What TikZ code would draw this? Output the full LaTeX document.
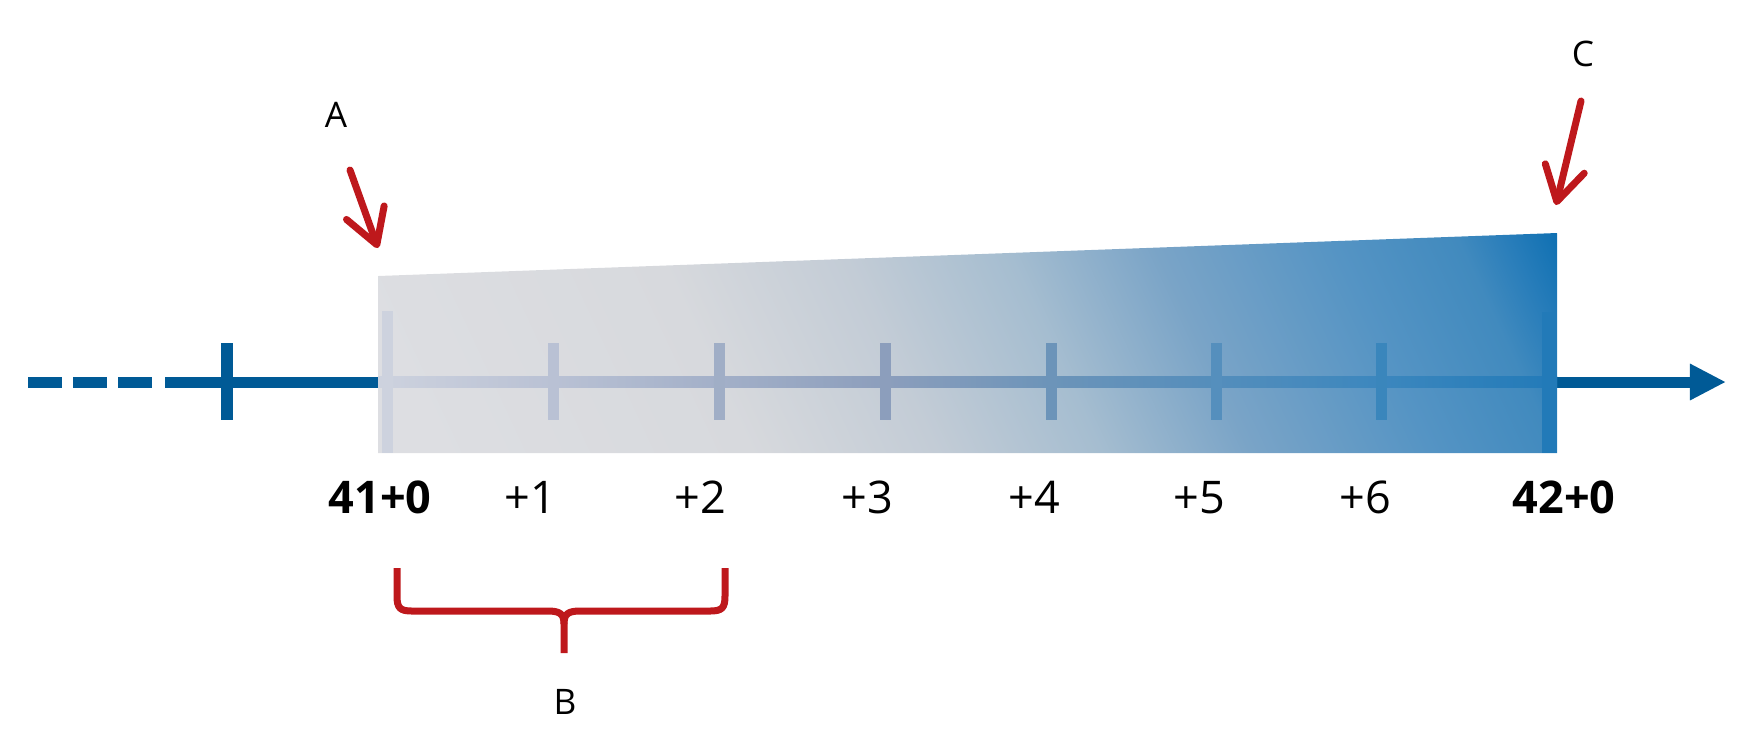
\documentclass[tikz,border=0pt]{standalone}
\usepackage{fontspec}
\setmainfont{Open Sans}
\usetikzlibrary{arrows.meta}
\definecolor{axisblue}{RGB}{0,90,150}
\definecolor{markred}{RGB}{190,24,28}
\definecolor{boxA}{RGB}{221,222,226}
\definecolor{boxB}{RGB}{215,217,221}
\definecolor{boxC}{RGB}{195,204,214}
\definecolor{boxD}{RGB}{165,189,208}
\definecolor{boxE}{RGB}{122,164,199}
\definecolor{boxF}{RGB}{85,148,196}
\definecolor{boxG}{RGB}{65,138,190}
\definecolor{boxH}{RGB}{40,125,186}
\definecolor{boxI}{RGB}{15,112,178}
\definecolor{lineA}{RGB}{205,210,222}
\definecolor{lineB}{RGB}{185,193,212}
\definecolor{lineC}{RGB}{140,158,188}
\definecolor{lineD}{RGB}{108,148,185}
\definecolor{lineE}{RGB}{60,135,190}
\definecolor{lineF}{RGB}{34,122,184}
\pgfdeclarehorizontalshading{boxfade}{100bp}{color(0bp)=(boxA); color(27bp)=(boxA);
  color(39.55bp)=(boxB); color(46.8bp)=(boxC); color(53.25bp)=(boxD); color(59.05bp)=(boxE);
  color(66.1bp)=(boxF); color(71bp)=(boxG); color(73bp)=(boxH); color(75bp)=(boxI);
  color(100bp)=(boxI)}
\pgfdeclarehorizontalshading{linefade}{100bp}{color(0bp)=(lineA); color(25bp)=(lineA);
  color(32.5bp)=(lineB); color(46.5bp)=(lineC); color(53.5bp)=(lineD);
  color(67.5bp)=(lineE); color(75bp)=(lineF); color(100bp)=(lineF)}

\begin{document}
\begin{tikzpicture}[x=0.01cm, y=-0.01cm,
    axis/.style={draw=axisblue, line width=0.11cm},
    pointer/.style={draw=markred, line width=0.07cm, line cap=round,
      -{Straight Barb[length=3.4mm,width=4mm,round]}},
    bracket/.style={draw=markred, line width=0.07cm},
    station/.style={anchor=base, inner sep=0pt, font=\fontsize{12.8}{15}\selectfont},
    tag/.style={anchor=base, inner sep=0pt, font=\fontsize{10}{12}\selectfont}]
  \useasboundingbox (0,0) rectangle (1754,753);

  % axis outside the band
  \draw[axis, dash pattern=on 0.34cm off 0.11cm] (28,382) -- (160,382);
  \draw[axis] (165,382) -- (378,382);
  \draw[axis] (227,343) -- (227,420);
  \draw[axis, -{Triangle[length=3.6mm,width=3.4mm]}] (1556,382) -- (1726,382);

  % band
  \begin{scope}
    \clip (378,276) -- (1557,233) -- (1557,453) -- (378,453) -- cycle;
    \shade[shading=boxfade, transform canvas={rotate around={25:(967.5,343)}}]
      (386.9,-100) rectangle (1548.1,800);
  \end{scope}
  \shade[shading=linefade] (378,376.5) rectangle (1557,387.5);
  \foreach \x/\r/\g/\b in {553/185/193/212, 719/160/174/198, 885/140/158/188,
      1051/108/148/185, 1216/85/143/189, 1381/58/134/188}
    \draw[line width=0.11cm, draw={rgb,255:red,\r;green,\g;blue,\b}] (\x,343) -- (\x,420);
  \draw[line width=0.11cm, draw=lineA] (387,311) -- (387,453);
  \draw[line width=0.15cm, draw=lineF] (1549,312) -- (1549,453);

  \node[station] (s41) at (380,513) {\bfseries 41+0};
  \foreach \n/\x in {1/530, 2/700, 3/867, 4/1034, 5/1199, 6/1365}
    \node[station] (p\n) at (\x,513) {+\n};
  \node[station] (s42) at (1564,513) {\bfseries 42+0};

  % markers
  \node[tag] (A) at (336,127) {A};
  \node[tag] (C) at (1583,66) {C};
  \node[tag] (B) at (565,714) {B};
  \coordinate (A from) at (350,170);
  \coordinate (A to) at (378,248);
  \coordinate (C from) at (1581,101);
  \coordinate (C to) at (1556,205);
  \draw[pointer] (A from) -- (A to);
  \draw[pointer] (C from) -- (C to);

  \draw[bracket] (397,568) -- (397,596) .. controls (397,608) and (400,611) .. (412,611)
    -- (548,611) .. controls (560,611) and (564,614) .. (564,624) -- (564,653);
  \draw[bracket] (725,568) -- (725,596) .. controls (725,608) and (722,611) .. (710,611)
    -- (580,611) .. controls (568,611) and (564,614) .. (564,624);
\end{tikzpicture}
\end{document}
